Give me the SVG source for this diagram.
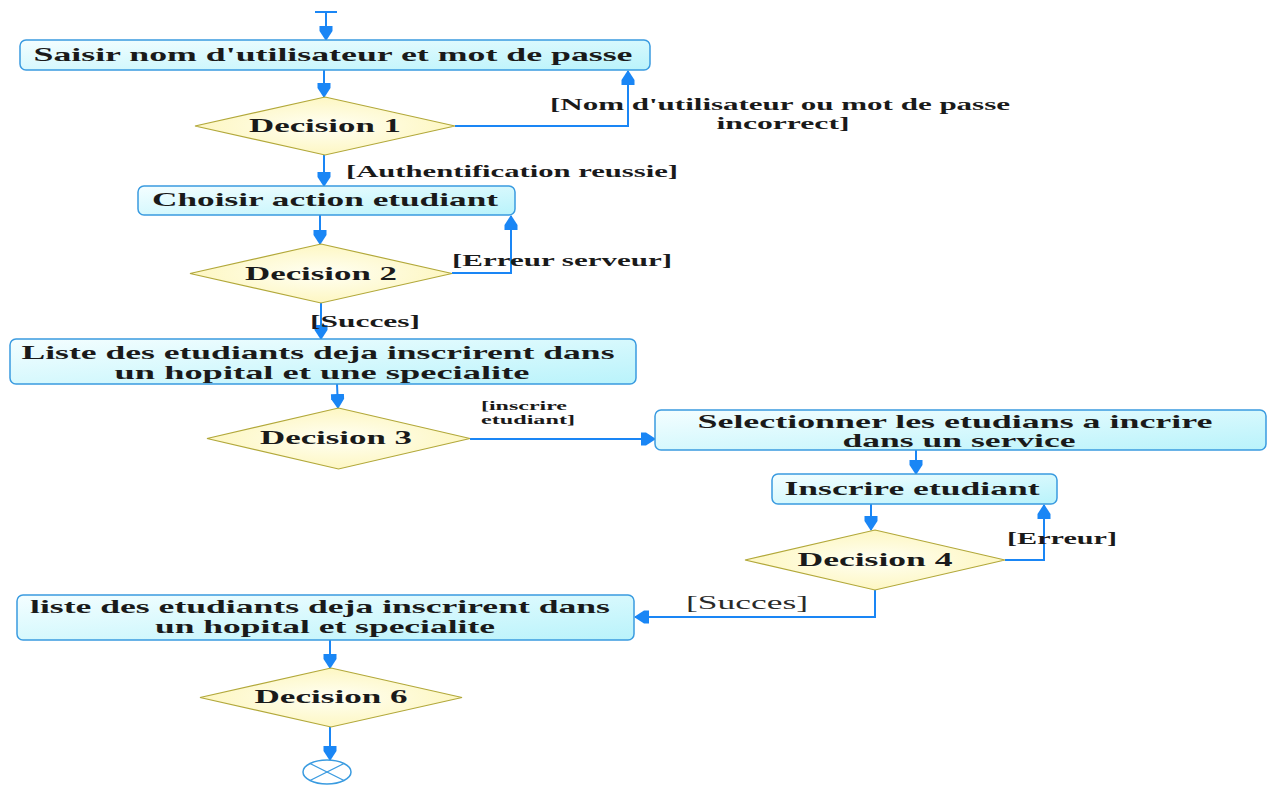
<svg xmlns="http://www.w3.org/2000/svg" width="1271" height="785" viewBox="0 0 1271 785">
  <defs>
    <linearGradient id="actFill" x1="0" y1="0" x2="1" y2="1">
      <stop offset="0" stop-color="#f4feff"/>
      <stop offset="1" stop-color="#b9f3fb"/>
    </linearGradient>
    <radialGradient id="decFill" cx="0.5" cy="0.5" r="0.6">
      <stop offset="0" stop-color="#fffff4"/>
      <stop offset="1" stop-color="#fdf5b8"/>
    </radialGradient>
    <marker id="arrow" viewBox="0 -8 15 16" refX="14" refY="0" markerWidth="15" markerHeight="16" markerUnits="userSpaceOnUse" orient="auto">
      <path d="M0,-6.5 L5,-6.5 L15,0 L5,6.5 L0,6.5 Z" fill="#1a86f5"/>
    </marker>
    <style>
      .act { fill: url(#actFill); stroke: #3a9be0; stroke-width: 1.5; }
      .dec { fill: url(#decFill); stroke: #b2a83a; stroke-width: 1.2; }
      .edge { fill: none; stroke: #1a86f5; stroke-width: 2; }
      .edge-a { fill: none; stroke: #1a86f5; stroke-width: 2; marker-end: url(#arrow); }
      .t { font-family: "Liberation Serif", "Times New Roman", serif; font-weight: bold; fill: #1a1a1a; text-anchor: middle; }
      .big { font-size: 19px; }
      .lbl { font-size: 17px; }
      .small { font-size: 12px; }
      .reg { font-family: "Liberation Serif", "Times New Roman", serif; font-weight: normal; fill: #2a2a2a; font-size: 18px; text-anchor: middle; }
      .fin { fill: #ffffff; stroke: #3a9be0; stroke-width: 1.5; }
    </style>
  </defs>

  <!-- connectors -->
  <g id="connectors">
    <line class="edge" x1="315" y1="12" x2="337" y2="12"/>
    <path class="edge-a" d="M326,12 L326,40"/>
    <path class="edge-a" d="M324,70 L324,97"/>
    <path class="edge-a" d="M455,126 L628,126 L628,71"/>
    <path class="edge-a" d="M324,155 L324,186"/>
    <path class="edge-a" d="M320,215 L320,244"/>
    <path class="edge-a" d="M452,273 L511,273 L511,216"/>
    <path class="edge-a" d="M321,303 L321,339"/>
    <path class="edge-a" d="M337,384 L338,408"/>
    <path class="edge-a" d="M470,439 L655,439"/>
    <path class="edge-a" d="M916,450 L916,474"/>
    <path class="edge-a" d="M871,504 L871,530"/>
    <path class="edge-a" d="M1005,560 L1044,560 L1044,505"/>
    <path class="edge-a" d="M875,590 L875,617 L635,617"/>
    <path class="edge-a" d="M330,640 L330,668"/>
    <path class="edge-a" d="M330,727 L330,760"/>

    <text class="t lbl" x="780" y="110" textLength="460" lengthAdjust="spacingAndGlyphs">[Nom d'utilisateur ou mot de passe</text>
    <text class="t lbl" x="783" y="129" textLength="133" lengthAdjust="spacingAndGlyphs">incorrect]</text>
    <text class="t lbl" x="512" y="177" textLength="332" lengthAdjust="spacingAndGlyphs">[Authentification reussie]</text>
    <text class="t lbl" x="562" y="266" textLength="220" lengthAdjust="spacingAndGlyphs">[Erreur serveur]</text>
    <text class="t lbl" x="365" y="327" textLength="110" lengthAdjust="spacingAndGlyphs">[Succes]</text>
    <text class="t small" x="524" y="410" textLength="86" lengthAdjust="spacingAndGlyphs">[inscrire</text>
    <text class="t small" x="528" y="424" textLength="94" lengthAdjust="spacingAndGlyphs">etudiant]</text>
    <text class="t lbl" x="1062" y="544" textLength="110" lengthAdjust="spacingAndGlyphs">[Erreur]</text>
    <text class="reg" x="747" y="609" textLength="122" lengthAdjust="spacingAndGlyphs">[Succes]</text>
  </g>

  <g id="saisir">
    <rect class="act" x="20" y="40" width="630" height="30" rx="6"/>
    <text class="t big" x="333" y="61" textLength="599" lengthAdjust="spacingAndGlyphs">Saisir nom d'utilisateur et mot de passe</text>
  </g>

  <g id="decision1">
    <polygon class="dec" points="325,97 455,126 325,155 195,126"/>
    <text class="t big" x="325" y="132" textLength="152" lengthAdjust="spacingAndGlyphs">Decision 1</text>
  </g>

  <g id="choisir">
    <rect class="act" x="138" y="186" width="377" height="29" rx="6"/>
    <text class="t big" x="325" y="206" textLength="346" lengthAdjust="spacingAndGlyphs">Choisir action etudiant</text>
  </g>

  <g id="decision2">
    <polygon class="dec" points="321,244 452,273.5 321,303 190,273.5"/>
    <text class="t big" x="321" y="280" textLength="152" lengthAdjust="spacingAndGlyphs">Decision 2</text>
  </g>

  <g id="liste1">
    <rect class="act" x="10" y="339" width="626" height="45" rx="6"/>
    <text class="t big" x="318" y="359" textLength="593" lengthAdjust="spacingAndGlyphs">Liste des etudiants deja inscrirent dans</text>
    <text class="t big" x="322" y="379" textLength="415" lengthAdjust="spacingAndGlyphs">un hopital et une specialite</text>
  </g>

  <g id="decision3">
    <polygon class="dec" points="338.5,408 470,438.5 338.5,469 207,438.5"/>
    <text class="t big" x="336" y="444" textLength="152" lengthAdjust="spacingAndGlyphs">Decision 3</text>
  </g>

  <g id="selectionner">
    <rect class="act" x="655" y="410" width="611" height="40" rx="6"/>
    <text class="t big" x="955" y="428" textLength="515" lengthAdjust="spacingAndGlyphs">Selectionner les etudians a incrire</text>
    <text class="t big" x="959" y="447" textLength="233" lengthAdjust="spacingAndGlyphs">dans un service</text>
  </g>

  <g id="inscrire">
    <rect class="act" x="772" y="474" width="285" height="30" rx="6"/>
    <text class="t big" x="912" y="495" textLength="255" lengthAdjust="spacingAndGlyphs">Inscrire etudiant</text>
  </g>

  <g id="decision4">
    <polygon class="dec" points="875,530 1005,560 875,590 745,560"/>
    <text class="t big" x="875" y="566" textLength="155" lengthAdjust="spacingAndGlyphs">Decision 4</text>
  </g>

  <g id="liste2">
    <rect class="act" x="17" y="595" width="617" height="45" rx="6"/>
    <text class="t big" x="320" y="613" textLength="580" lengthAdjust="spacingAndGlyphs">liste des etudiants deja inscrirent dans</text>
    <text class="t big" x="325" y="633" textLength="340" lengthAdjust="spacingAndGlyphs">un hopital et specialite</text>
  </g>

  <g id="decision6">
    <polygon class="dec" points="331,668 462,697.5 331,727 200,697.5"/>
    <text class="t big" x="331" y="703" textLength="153" lengthAdjust="spacingAndGlyphs">Decision 6</text>
  </g>

  <g id="final">
    <ellipse class="fin" cx="327" cy="772" rx="24" ry="12"/>
    <line x1="310" y1="763.5" x2="344" y2="780.5" stroke="#3a9be0" stroke-width="1.3"/>
    <line x1="310" y1="780.5" x2="344" y2="763.5" stroke="#3a9be0" stroke-width="1.3"/>
  </g>
</svg>
